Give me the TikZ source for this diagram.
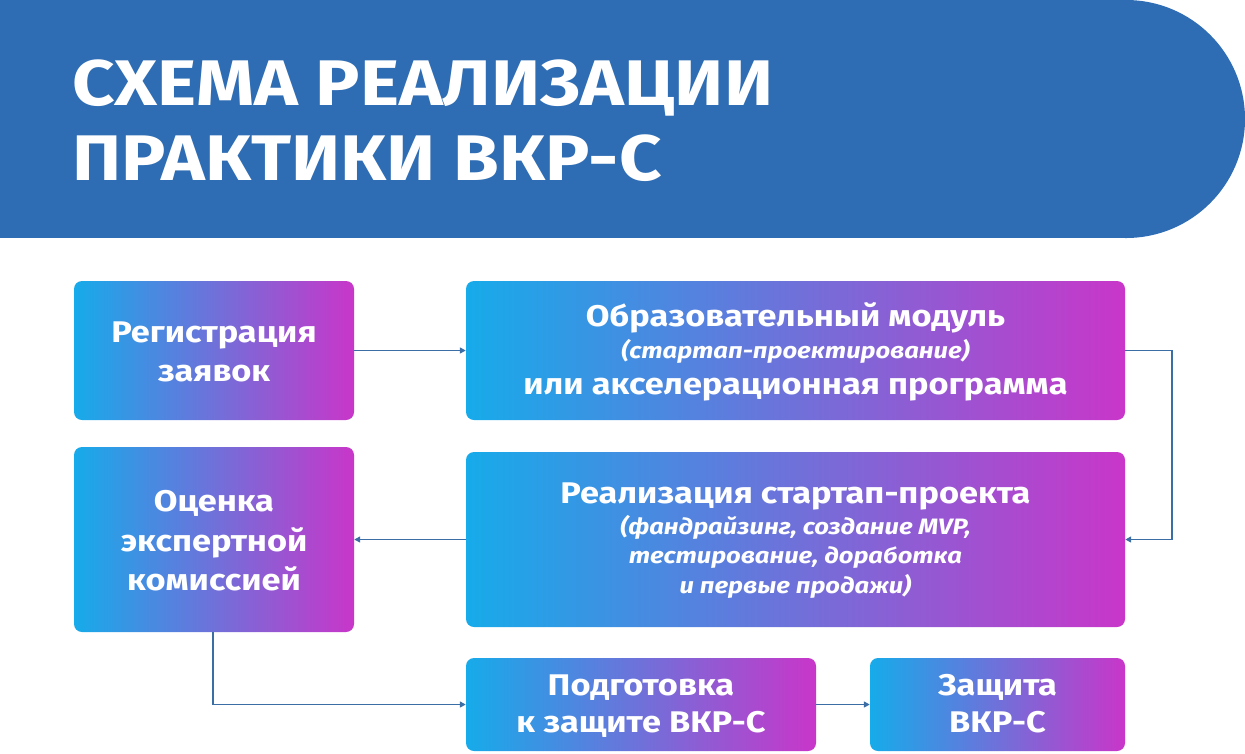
\documentclass[tikz,border=0pt]{standalone}
\usepackage{fontspec}
\setmainfont{Fira Sans}[FakeStretch=1.15]
\usetikzlibrary{arrows.meta}
\definecolor{hdr}{HTML}{2E6DB4}
\definecolor{gl}{HTML}{16ABEA}
\definecolor{gr}{HTML}{C936C9}
\definecolor{arr}{HTML}{3C6EA6}
\tikzset{
  box/.style={rounded corners=0.24cm, left color=gl, right color=gr, draw=none,
    text=white, align=center, inner sep=0pt},
  conn/.style={draw=arr, line width=1.4pt, -{Triangle[length=5pt,width=5pt]}},
  bt/.style={font=\fontsize{25.5}{32}\selectfont\bfseries},
  it/.style={font=\fontsize{19}{25}\selectfont\bfseries\itshape},
  ttl/.style={anchor=base west, text=white, font=\fontsize{55}{64}\selectfont\bfseries, inner sep=0pt},
}
\begin{document}
\begin{tikzpicture}[x={(0.03cm,0)}, y={(0,-0.03cm)}]
\useasboundingbox (0,0) rectangle (1245,753);
% header
\fill[hdr] (0,0) rectangle (1126,238);
\fill[hdr] (1126,119) circle (3.57cm);
\node[ttl] (t1) at (72,105) {СХЕМА РЕАЛИЗАЦИИ};
\node[ttl] (t2) at (72,180) {ПРАКТИКИ ВКР-С};
% boxes
\node[box, minimum width=280*0.03cm, minimum height=139*0.03cm] (reg) at (214,350.5) {};
\node[box, minimum width=659*0.03cm, minimum height=139*0.03cm] (obr) at (795.5,350.5) {};
\node[box, minimum width=280*0.03cm, minimum height=185*0.03cm] (otz) at (214,539.5) {};
\node[box, minimum width=659*0.03cm, minimum height=175*0.03cm] (real) at (795.5,539.5) {};
\node[box, minimum width=350*0.03cm, minimum height=93*0.03cm] (podg) at (641,704.5) {};
\node[box, minimum width=255*0.03cm, minimum height=93*0.03cm] (zash) at (997.5,704.5) {};
% texts
\node[bt, text=white, anchor=base] (reg1) at (214,342) {Регистрация};
\node[bt, text=white, anchor=base] (reg2) at (214,381) {заявок};
\node[bt, text=white, anchor=base] (obr1) at (795.5,326) {Образовательный модуль};
\node[it, text=white, anchor=base] (obr2) at (795.5,358) {(стартап-проектирование)};
\node[bt, text=white, anchor=base] (obr3) at (795.5,394) {или акселерационная программа};
\node[bt, text=white, anchor=base] (otz1) at (214,511) {Оценка};
\node[bt, text=white, anchor=base] (otz2) at (214,551) {экспертной};
\node[bt, text=white, anchor=base] (otz3) at (214,590) {комиссией};
\node[bt, text=white, anchor=base] (re1) at (795.5,503) {Реализация стартап-проекта};
\node[it, text=white, anchor=base] (re2) at (795.5,534) {(фандрайзинг, создание MVP,};
\node[it, text=white, anchor=base] (re3) at (795.5,563) {тестирование, доработка};
\node[it, text=white, anchor=base] (re4) at (795.5,593) {и первые продажи)};
\node[bt, text=white, anchor=base] (pd1) at (641,695) {Подготовка};
\node[bt, text=white, anchor=base] (pd2) at (641,732) {к защите ВКР-С};
\node[bt, text=white, anchor=base] (zs1) at (997.5,695) {Защита};
\node[bt, text=white, anchor=base] (zs2) at (997.5,732) {ВКР-С};
% connectors
\coordinate (c1) at (1172,350.5);
\coordinate (c2) at (1172,539.5);
\coordinate (c3) at (213,704.5);
\draw[conn] (reg.east) -- (obr.west);
\draw[conn] (obr.east) -- (c1) -- (c2) -- (real.east);
\draw[conn] (real.west) -- (otz.east);
\draw[conn] (otz.south -| c3) -- (c3) -- (podg.west);
\draw[conn] (podg.east) -- (zash.west);
\end{tikzpicture}
\end{document}
